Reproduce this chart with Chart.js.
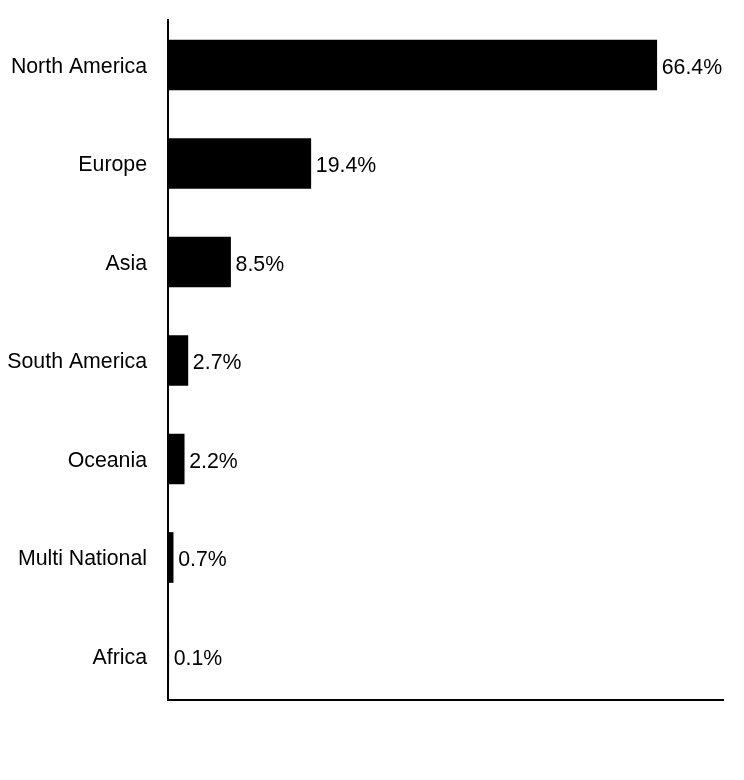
<!DOCTYPE html>
<html>
<head>
<meta charset="utf-8">
<script src="https://cdn.jsdelivr.net/npm/chart.js@4/dist/chart.umd.min.js"></script>
<style>
    html, body { margin: 0; padding: 0; background: #ffffff; }
    #wrap { width: 744px; height: 780px; }
</style>
</head>
<body>
<div id="wrap"><canvas id="regionChart"></canvas></div>
<script>
// ================================================================
// DATOS
// ================================================================
const REGIONS = ['North America', 'Europe', 'Asia', 'South America', 'Oceania', 'Multi National', 'Africa'];
const SHARES = [66.4, 19.4, 8.5, 2.7, 2.2, 0.7, 0.1];
const VALUE_LABELS = ['66.4%', '19.4%', '8.5%', '2.7%', '2.2%', '0.7%', '0.1%'];

const FONT = { family: "'Liberation Sans', Arial, sans-serif", size: 21.3 };

// Etiquetas de valor al final de cada barra
const valueLabels = {
    id: 'valueLabels',
    afterDatasetsDraw(chart) {
        const ctx = chart.ctx;
        const meta = chart.getDatasetMeta(0);
        ctx.save();
        ctx.fillStyle = '#000000';
        ctx.font = `${FONT.size}px ${FONT.family}`;
        ctx.textAlign = 'left';
        ctx.textBaseline = 'middle';
        meta.data.forEach((bar, i) => {
            ctx.fillText(VALUE_LABELS[i], bar.x + 5, bar.y + 3);
        });
        ctx.restore();
    }
};

const points = SHARES.map((v, i) => ({ x: v, y: i }));

new Chart(document.getElementById('regionChart'), {
    type: 'bar',
    data: {
        datasets: [{
            data: points,
            backgroundColor: '#000000',
            borderWidth: 0,
            barThickness: 50
        }]
    },
    options: {
        indexAxis: 'y',
        responsive: true,
        maintainAspectRatio: false,
        animation: false,
        layout: { padding: { top: 20, right: 21, left: 0, bottom: 0 } },
        plugins: {
            legend: { display: false },
            tooltip: { enabled: false }
        },
        scales: {
            x: {
                type: 'linear',
                min: 0,
                max: 75.4,
                grid: { display: false, drawTicks: false },
                border: { display: true, color: '#000000', width: 2 },
                ticks: { display: false },
                afterFit(scale) { scale.height = 80; }
            },
            y: {
                type: 'linear',
                reverse: true,
                offset: false,
                min: -0.457,
                max: 6.447,
                grid: { display: false, drawTicks: false },
                border: { display: true, color: '#000000', width: 2 },
                afterBuildTicks(scale) {
                    scale.ticks = REGIONS.map((_, i) => ({ value: i }));
                },
                ticks: {
                    color: '#000000',
                    font: FONT,
                    padding: 21,
                    labelOffset: 2,
                    autoSkip: false,
                    callback: (v) => REGIONS[v] ?? ''
                },
                afterFit(scale) {
                    scale.width = 168;
                    scale.paddingTop = 0;
                    scale.paddingBottom = 0;
                }
            }
        }
    },
    plugins: [valueLabels]
});
</script>
</body>
</html>
